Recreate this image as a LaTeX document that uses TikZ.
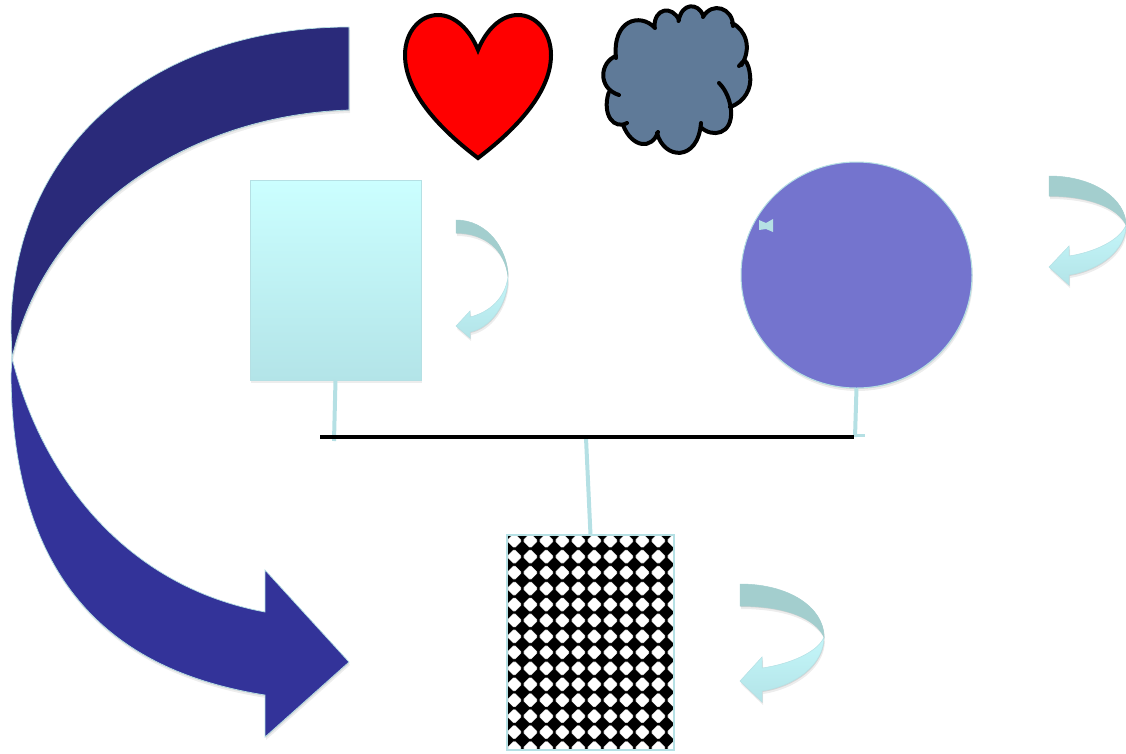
\documentclass[tikz,border=0pt]{standalone}
\usepackage{tikz}
\usetikzlibrary{positioning,shapes.geometric,shadows}

\definecolor{edgeblue}{HTML}{B5E0E4}
\definecolor{darkband}{HTML}{2A2A7A}
\definecolor{lightband}{HTML}{333399}
\definecolor{discblue}{HTML}{7474CE}
\definecolor{flipdark}{HTML}{A3CECE}
\definecolor{cloudblue}{HTML}{5F7A98}
\definecolor{recttop}{HTML}{CBFFFF}
\definecolor{rectmid}{HTML}{C4F6F9}
\definecolor{rectbot}{HTML}{B3E4E8}

\begin{document}
\begin{tikzpicture}[x=1pt,y=-1pt,
softshadow/.style={drop shadow={shadow xshift=0.5pt,shadow yshift=-1pt,opacity=0.1,fill=black},drop shadow={shadow xshift=1pt,shadow yshift=-3pt,opacity=0.07,fill=black}},
parentrect/.style={rectangle, draw=edgeblue, line width=1pt, outer sep=0pt, minimum width=171pt, minimum height=200pt, top color=recttop, middle color=rectmid, bottom color=rectbot, softshadow},
parentdisc/.style={ellipse, draw=edgeblue, line width=1pt, fill=discblue, outer sep=0pt, inner sep=0pt, minimum width=231pt, minimum height=226pt, softshadow},
childrect/.style={rectangle, draw=edgeblue, line width=1.5pt, fill=black, outer sep=0pt, minimum width=167pt, minimum height=215pt},
link/.style={edgeblue, line width=4pt},
bigupper/.style={fill=darkband, draw=edgeblue, line width=0.7pt, softshadow},
biglower/.style={fill=lightband, draw=edgeblue, line width=0.7pt, softshadow},
flipupper/.style={fill=flipdark, draw=flipdark, line width=0.5pt, softshadow},
fliplower/.style={top color=rectmid, bottom color=rectbot, draw=edgeblue, line width=0.5pt, softshadow},
outline/.style={draw=black, line width=4pt}
]
\useasboundingbox (0,0) rectangle (1126,753);

\draw[bigupper] (349,27) .. controls (160,27) and (11,140) .. (11,330) -- (12,358) .. controls (45,210) and (190,115) .. (349,110) -- cycle;
\draw[biglower] (12,358) -- (11,375) .. controls (13,590) and (120,672) .. (265,695) -- (265,737) -- (349,662) -- (265,570) -- (265,612) .. controls (120,585) and (40,470) .. (12,358) -- cycle;

% heart
\draw[outline, fill=red] (478,50) .. controls (470,30) and (455,15) .. (438,15) .. controls (420,15) and (405,32) .. (405,55) .. controls (405,95) and (445,133) .. (478,158) .. controls (511,133) and (551,95) .. (551,55) .. controls (551,32) and (536,15) .. (518,15) .. controls (501,15) and (486,30) .. (478,50) -- cycle;

% cloud
\filldraw[cloudblue, line width=2pt] (616,58) -- (608,93) -- (624,126) -- (658,134) -- (701,125) -- (730,107) -- (744,60) -- (732,22) -- (703,13) -- (680,16) -- (655,24) -- cycle;
\filldraw[outline, fill=cloudblue, line cap=round]
(616,56) .. controls (600,62) and (597,88) .. (619,95)
(608.5,93) .. controls (602,115) and (614,130) .. (627,123)
(623,125) .. controls (632,148) and (652,150) .. (658,132)
(657,133) .. controls (664,160) and (698,162) .. (701,123)
(700.5,127) .. controls (712,138) and (733,135) .. (731,110) .. controls (730,100) and (726,90) .. (719,83)
(730,107) .. controls (745,102) and (752,88) .. (750,75) .. controls (749.5,70) and (748,63) .. (744.5,60) -- (739,66)
(741.5,65) .. controls (752,48) and (746,30) .. (732,23)
(733,26) .. controls (733,8) and (712,1) .. (703,17)
(703,15) .. controls (698,3) and (682,2) .. (678.5,21)
(679,20) .. controls (672,5) and (654,8) .. (654.5,27)
(655,28) .. controls (640,12) and (612,20) .. (616,58);

\node[parentrect](rect_left) at (335.5,280){};
\node[parentdisc](disc_right)[right=320pt of rect_left,yshift=5pt]{};
\node[childrect](child_grid)[below=155pt of rect_left,xshift=255pt]{};

\fill[edgeblue] (759,220) -- (766,223) -- (773,219) -- (773,232) -- (766,229) -- (759,230) -- cycle;

\begin{scope}
\clip (child_grid.south west) rectangle (child_grid.north east);
\foreach \i in {-1,...,10}
  \foreach \j in {0,...,13} {
    \fill[gray!40,rounded corners=1.5pt,shift={({514.3+16*\i},{540.7+15.95*\j})}] (-7.8,0) -- (0,-7.8) -- (7.8,0) -- (0,7.8) -- cycle;
    \fill[white,rounded corners=1.5pt,shift={({514.3+16*\i},{540.7+15.95*\j})}] (-7.1,0) -- (0,-7.1) -- (7.1,0) -- (0,7.1) -- cycle;
  }
\end{scope}
\draw[edgeblue, line width=1.5pt] (child_grid.south west) rectangle (child_grid.north east);

\coordinate (bar_start) at (320,437);
\coordinate (bar_rect) at (334,441);
\coordinate (bar_mid) at (586,438);
\coordinate (bar_end) at (854,437);
\coordinate (bar_disc) at (855,437);
\coordinate (bar_stub) at (865,435.5);

\draw[link] (rect_left.south) -- (bar_rect);
\draw[link] (disc_right.south) -- (bar_disc);
\draw[edgeblue, line width=3.5pt] (bar_disc |- bar_stub) -- (bar_stub);
\draw[link] (bar_mid) -- (child_grid.north);
\draw[black, line width=3.5pt] (bar_start) -- (bar_end);

% turning arrows
\draw[flipupper] (456,220) .. controls (488,220) and (508,250) .. (508,277) .. controls (505,250) and (485,233) .. (456,233) -- cycle;
\draw[fliplower] (508,277) .. controls (508,305) and (490,328) .. (470,332) -- (470,338) -- (456,326) -- (470,311) -- (470,317) .. controls (490,312) and (505,298) .. (508,277) -- cycle;

\draw[flipupper] (1049,176) .. controls (1095,176) and (1126,200) .. (1126,225) .. controls (1118,208) and (1090,196) .. (1049,196) -- cycle;
\draw[fliplower] (1126,225) .. controls (1126,250) and (1100,270) .. (1069,275) -- (1069,285) -- (1049,267) -- (1069,246) -- (1069,256) .. controls (1095,252) and (1120,240) .. (1126,225) -- cycle;

\draw[flipupper] (740,584) .. controls (790,584) and (824,608) .. (824,637) .. controls (815,618) and (785,606) .. (740,606) -- cycle;
\draw[fliplower] (824,637) .. controls (824,665) and (795,686) .. (762,691) -- (762,702) -- (740,681) -- (762,657) -- (762,668) .. controls (790,664) and (818,652) .. (824,637) -- cycle;
\end{tikzpicture}
\end{document}
